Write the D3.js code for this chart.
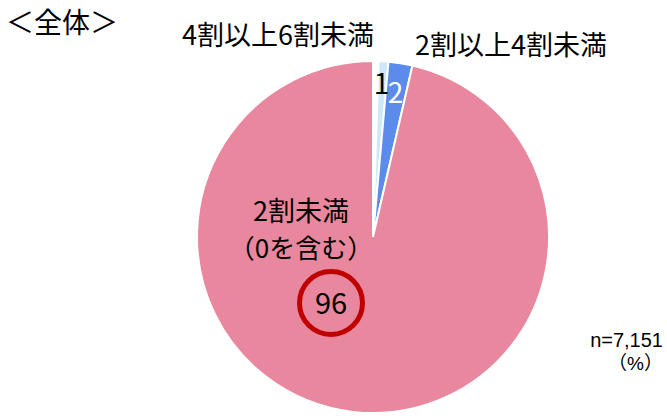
<!DOCTYPE html>
<html lang="ja">
<head>
<meta charset="utf-8">
<title>全体</title>
<script src="https://cdn.jsdelivr.net/npm/d3@7"></script>
<style>
  body { margin: 0; background: #fff; }
  svg text { font-family: "Noto Sans CJK JP", sans-serif; }
</style>
</head>
<body>
<script>
// slices, clockwise from 12 o'clock
var categories = ["6割以上", "4割以上6割未満", "2割以上4割未満", "2割未満（0を含む）"];
var values = [0.5, 0.9, 2.2, 96.4];
var valueLabels = ["", "1", "2", "96"];
var colors = ["#ffffff", "#cde8f8", "#5b8cec", "#e8879d"];

var W = 667, H = 416;
var cx = 373, cy = 237, R = 176;

var svg = d3.select("body").append("svg")
  .attr("width", W).attr("height", H);

var pie = d3.pie().sort(null).value(function(d) { return d; });
var arcs = pie(values);
var arc = d3.arc().innerRadius(0).outerRadius(R);

var g = svg.append("g").attr("transform", "translate(" + cx + "," + cy + ")");

g.selectAll("path").data(arcs).enter().append("path")
  .attr("d", arc)
  .attr("fill", function(d, i) { return colors[i]; })
  .attr("stroke", "#fff")
  .attr("stroke-width", 2);

// small value labels near the rim
var rimArc = d3.arc().innerRadius(R * 0.82).outerRadius(R * 0.82);
g.selectAll("text.val").data(arcs.slice(1, 3)).enter().append("text")
  .attr("class", "val")
  .attr("x", function(d) { return rimArc.centroid(d)[0]; })
  .attr("y", function(d, i) { return rimArc.centroid(d)[1] + (i === 0 ? 1 : 9); })
  .attr("text-anchor", "middle")
  .attr("font-size", 28)
  .attr("fill", function(d, i) { return i === 1 ? "#fff" : "#000"; })
  .text(function(d, i) { return valueLabels[i + 1]; });

// category labels above the pie
svg.append("text").attr("x", 278).attr("y", 45).attr("text-anchor", "middle")
  .attr("font-size", 27).text(categories[1]);
svg.append("text").attr("x", 511).attr("y", 55).attr("text-anchor", "middle")
  .attr("font-size", 27).text(categories[2]);

// big slice label
svg.append("text").attr("x", 301).attr("y", 221).attr("text-anchor", "middle")
  .attr("font-size", 27).text("2割未満");
svg.append("text").attr("x", 301).attr("y", 258).attr("text-anchor", "middle")
  .attr("font-size", 26).text("（0を含む）");

svg.append("circle").attr("cx", 331).attr("cy", 303).attr("r", 31.5)
  .attr("fill", "none").attr("stroke", "#c00000").attr("stroke-width", 5);
svg.append("text").attr("x", 331).attr("y", 314).attr("text-anchor", "middle")
  .attr("font-size", 29).text(valueLabels[3]);

// title and notes
svg.append("text").attr("x", 6).attr("y", 33).attr("font-size", 28).text("＜全体＞");
svg.append("text").attr("x", 663).attr("y", 347).attr("text-anchor", "end")
  .style("font-family", "'Liberation Sans', Arial, sans-serif")
  .attr("font-size", 20).text("n=7,151");
svg.append("text").attr("x", 663).attr("y", 370).attr("text-anchor", "end")
  .style("font-family", "'Liberation Sans', 'Noto Sans CJK JP', sans-serif")
  .attr("font-size", 19).text("（%）");
</script>
</body>
</html>
